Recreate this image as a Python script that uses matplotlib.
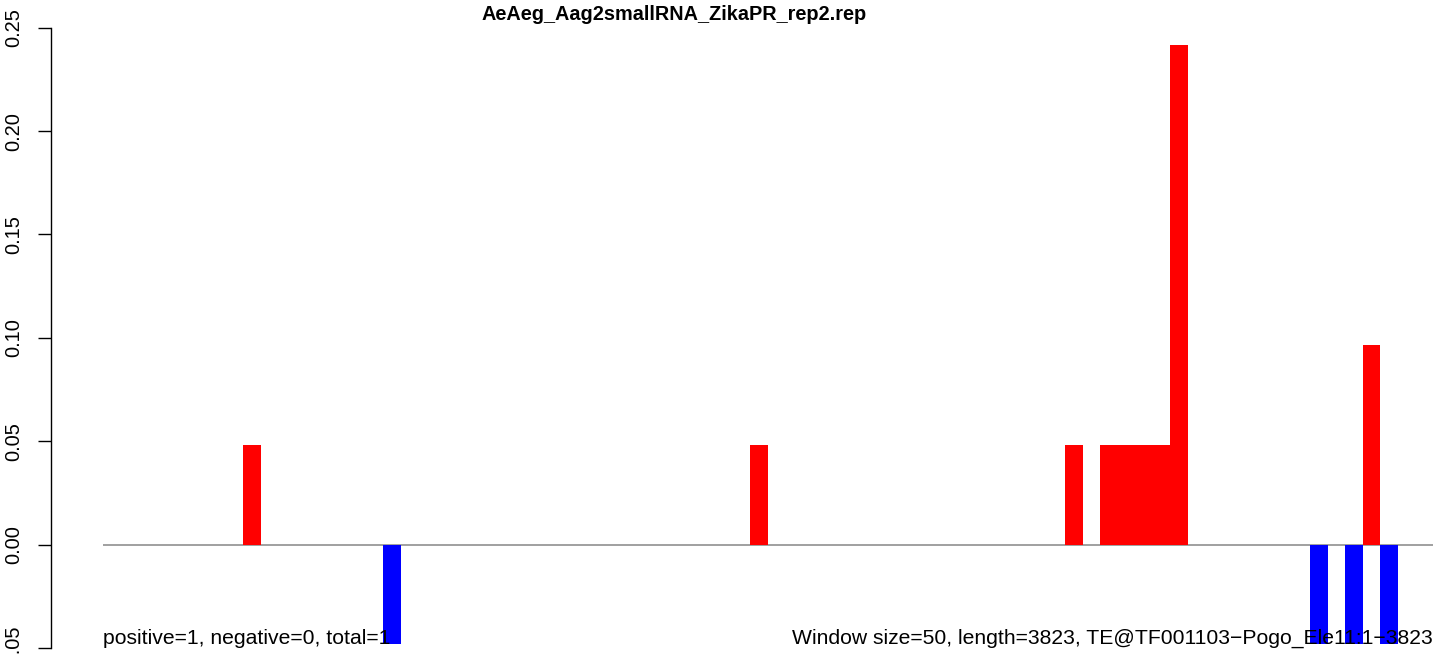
import matplotlib
matplotlib.use('Agg')
import matplotlib.pyplot as plt
from matplotlib import font_manager

plt.rcParams['font.family'] = ['Liberation Sans', 'DejaVu Sans']

TITLE = 'AeAeg_Aag2smallRNA_ZikaPR_rep2.rep'
N_WINDOWS = 76

# sense (red) and antisense (blue) read fractions per 50 bp window
pos_windows = [8, 37, 55, 57, 58, 59, 60, 61, 72]
pos_values  = [0.0483, 0.0483, 0.0483, 0.0483, 0.0483, 0.0483, 0.0483, 0.2415, 0.0966]
neg_windows = [16, 69, 71, 73]
neg_values  = [-0.0483, -0.0483, -0.0483, -0.0483]

y_ticks  = [-0.05, 0.00, 0.05, 0.10, 0.15, 0.20, 0.25]
y_labels = ['-0.05', '0.00', '0.05', '0.10', '0.15', '0.20', '0.25']

left_note  = 'positive=1, negative=0, total=1'
right_note = 'Window size=50, length=3823, TE@TF001103\u2212Pogo_Ele11:1\u22123823'

# the title in the original is a condensed bold face
installed = {f.name for f in font_manager.fontManager.ttflist}
if 'Liberation Sans Narrow' in installed:
    title_font, title_size = 'Liberation Sans Narrow', 17.2
else:
    title_font, title_size = 'Liberation Sans', 14.3

W, H = 1444, 656
fig = plt.figure(figsize=(W / 100, H / 100), dpi=100)
ax = fig.add_axes([50.7 / W, (H - 648) / H, 1 - 50.7 / W, (648 - 27.7) / H])

step = 17.49
x0 = -(103.3 - 50.7) / step
ax.set_xlim(x0, x0 + (W - 50.7) / step)
ax.set_ylim(-0.05, 0.25)

ax.hlines(0, 0, N_WINDOWS, color='#999999', lw=1.3, zorder=1)
ax.bar(pos_windows, pos_values, width=1, align='edge', color='#ff0000', lw=0, zorder=2)
ax.bar(neg_windows, neg_values, width=1, align='edge', color='#0000ff', lw=0, zorder=2)

for s in ['top', 'right', 'bottom']:
    ax.spines[s].set_visible(False)
ax.spines['left'].set_linewidth(1.0)
ax.set_xticks([])
ax.set_yticks(y_ticks)
ax.set_yticklabels(y_labels, rotation=90, va='center', fontsize=14.4)
ax.tick_params(axis='y', length=9.6, width=1.0, pad=10)

ax.text(0, -0.0481, left_note, ha='left', va='baseline', fontsize=15.2, zorder=3)
ax.text(N_WINDOWS, -0.0481, right_note, ha='right', va='baseline', fontsize=15.2, zorder=3)

fig.text(674 / W, 1 - 20 / H, TITLE, ha='center', va='baseline',
         fontsize=title_size, fontweight='bold', family=[title_font, 'DejaVu Sans'])

fig.savefig('out.png', dpi=100)
